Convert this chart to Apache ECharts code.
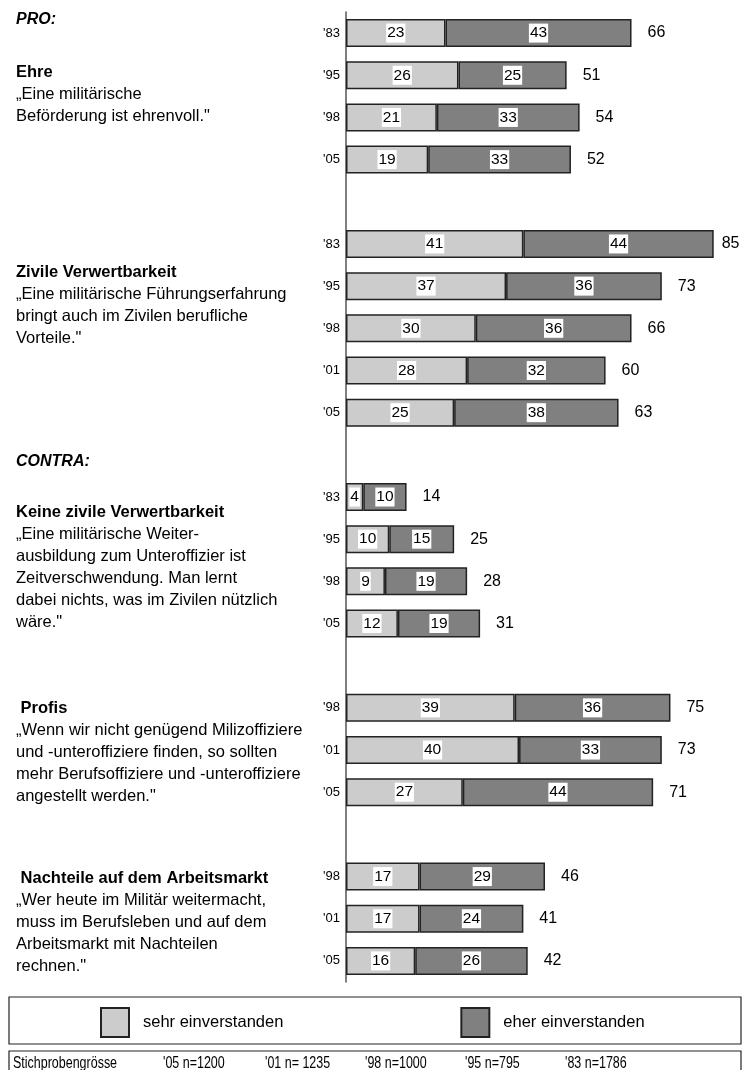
<!DOCTYPE html>
<html>
<head>
<meta charset="utf-8">
<script src="https://cdn.jsdelivr.net/npm/echarts@6/dist/echarts.min.js"></script>
<style>
  html, body { margin: 0; padding: 0; background: #fff; }
  #chart { width: 746px; height: 1070px; }
</style>
</head>
<body>
<div id="chart"></div>
<script>
// one row per bar, empty rows keep the statements apart
const years = ["'83", "'95", "'98", "'05", "",
  "'83", "'95", "'98", "'01", "'05", "",
  "'83", "'95", "'98", "'05", "",
  "'98", "'01", "'05", "",
  "'98", "'01", "'05"];
const sehr = [23, 26, 21, 19, null,
  41, 37, 30, 28, 25, null,
  4, 10, 9, 12, null,
  39, 40, 27, null,
  17, 17, 16];
const eher = [43, 25, 33, 33, null,
  44, 36, 36, 32, 38, null,
  10, 15, 19, 19, null,
  36, 33, 44, null,
  29, 24, 26];
const totals = [66, 51, 54, 52, null,
  85, 73, 66, 60, 63, null,
  14, 25, 28, 31, null,
  75, 73, 71, null,
  46, 41, 42];
const sampleLabels = ["Stichprobengrösse", "'05 n=1200", "'01 n= 1235", "'98 n=1000", "'95 n=795", "'83 n=1786"];

const FONT = "'Liberation Sans', Arial, sans-serif";

// left hand statements: [title, body lines, y of title, x]
const blocks = [
  ["Ehre", ["„Eine militärische", "Beförderung ist ehrenvoll.\""], 72, 16],
  ["Zivile Verwertbarkeit", ["„Eine militärische Führungserfahrung", "bringt auch im Zivilen berufliche", "Vorteile.\""], 272, 16],
  ["Keine zivile Verwertbarkeit", ["„Eine militärische Weiter-", "ausbildung zum Unteroffizier ist", "Zeitverschwendung. Man lernt", "dabei nichts, was im Zivilen nützlich", "wäre.\""], 512, 16],
  [" Profis", ["„Wenn wir nicht genügend Milizoffiziere", "und -unteroffiziere finden, so sollten", "mehr Berufsoffiziere und -unteroffiziere", "angestellt werden.\""], 708, 16],
  [" Nachteile auf dem Arbeitsmarkt", ["„Wer heute im Militär weitermacht,", "muss im Berufsleben und auf dem", "Arbeitsmarkt mit Nachteilen", "rechnen.\""], 878, 16]
];

const graphics = [];
graphics.push({ type: 'text', x: 16, y: 20, style: { text: 'PRO:', font: "italic bold 16px " + FONT, fill: '#000', verticalAlign: 'middle' } });
graphics.push({ type: 'text', x: 16, y: 462, style: { text: 'CONTRA:', font: "italic bold 16px " + FONT, fill: '#000', verticalAlign: 'middle' } });
blocks.forEach(function (b) {
  graphics.push({ type: 'text', x: b[3], y: b[2], style: { text: b[0], font: "bold 16.5px " + FONT, fill: '#000', verticalAlign: 'middle' } });
  b[1].forEach(function (line, i) {
    graphics.push({ type: 'text', x: 16, y: b[2] + 22 * (i + 1), style: { text: line, font: "16.5px " + FONT, fill: '#000', verticalAlign: 'middle' } });
  });
});
// legend frame and sample size strip
graphics.push({ type: 'rect', shape: { x: 9, y: 997, width: 732, height: 47 }, style: { fill: 'none', stroke: '#222', lineWidth: 1.2 } });
graphics.push({ type: 'rect', shape: { x: 9, y: 1051, width: 732, height: 30 }, style: { fill: 'none', stroke: '#222', lineWidth: 1.2 } });
const sampleX = [13, 163, 265, 365, 465, 565];
sampleLabels.forEach(function (t, i) {
  graphics.push({ type: 'text', x: sampleX[i], y: 1064, scaleX: 0.78, style: { text: t, font: "16px " + FONT, fill: '#000', verticalAlign: 'middle' } });
});

const chart = echarts.init(document.getElementById('chart'));
chart.setOption({
  animation: false,
  backgroundColor: '#fff',
  textStyle: { fontFamily: FONT },
  grid: { left: 346, top: 12, right: 2, height: 970 },
  xAxis: { type: 'value', min: 0, max: 92, show: false },
  yAxis: {
    type: 'category',
    inverse: true,
    data: years,
    axisLine: { show: true, lineStyle: { color: '#555', width: 1.5 } },
    axisTick: { show: false },
    axisLabel: { color: '#000', fontSize: 13, margin: 6, fontFamily: FONT },
    splitLine: { show: false }
  },
  legend: {
    data: ['sehr einverstanden', 'eher einverstanden'],
    left: 100,
    top: 1007,
    padding: 0,
    itemWidth: 28,
    itemHeight: 29,
    itemGap: 177,
    icon: 'rect',
    textStyle: { fontSize: 16.5, color: '#000', fontFamily: FONT, padding: [0, 0, 0, 9] }
  },
  series: [
    {
      name: 'sehr einverstanden',
      type: 'bar',
      stack: 'all',
      barWidth: 28,
      data: sehr,
      itemStyle: { color: '#cccccc', borderColor: '#222', borderWidth: 1.5 },
      label: { show: true, position: 'inside', color: '#000', fontSize: 15.5, fontFamily: FONT, backgroundColor: '#fff', padding: [2, 1, 1, 1] }
    },
    {
      name: 'eher einverstanden',
      type: 'bar',
      stack: 'all',
      barWidth: 28,
      data: eher,
      itemStyle: { color: '#808080', borderColor: '#222', borderWidth: 1.5 },
      label: { show: true, position: 'inside', color: '#000', fontSize: 15.5, fontFamily: FONT, backgroundColor: '#fff', padding: [2, 1, 1, 1] }
    },
    {
      name: 'Total',
      type: 'scatter',
      symbolSize: 0,
      itemStyle: { color: '#000', opacity: 1 },
      emphasis: { disabled: true },
      // the longest bar has less room before the edge
      data: totals.map(function (v, i) {
        if (v == null) return null;
        return { value: [v, i], label: { distance: v > 80 ? 8 : 16 } };
      }),
      label: { show: true, position: 'right', color: '#000', fontSize: 16, fontFamily: FONT, formatter: function (p) { return p.value[0]; } }
    }
  ],
  graphic: graphics
});
</script>
</body>
</html>
